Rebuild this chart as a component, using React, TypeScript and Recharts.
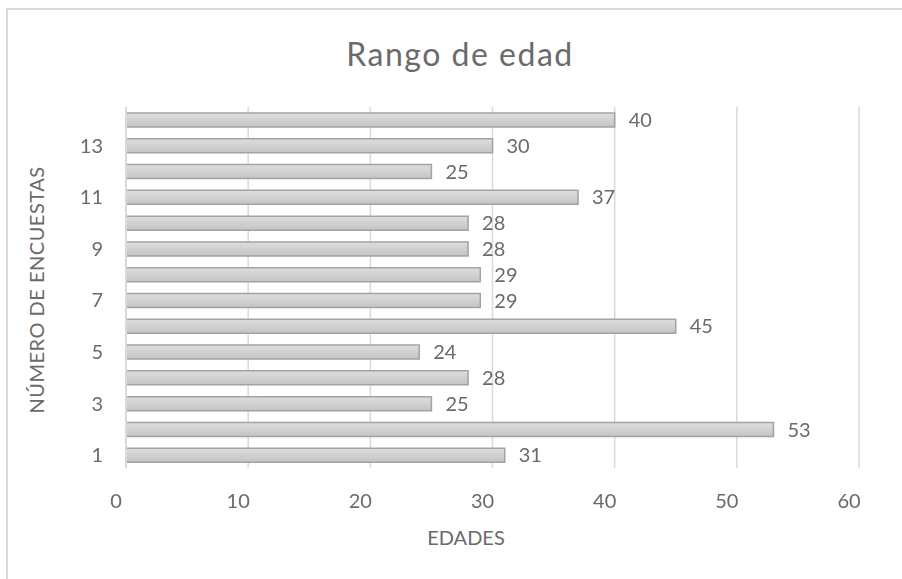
import {
  ComposedChart,
  Bar,
  XAxis,
  YAxis,
  CartesianGrid,
  LabelList,
} from 'recharts'

// encuesta number (bottom to top) and age
const encuestas = ['1', '2', '3', '4', '5', '6', '7', '8', '9', '10', '11', '12', '13', '14']
const edades = [31, 53, 25, 28, 24, 45, 29, 29, 28, 28, 37, 25, 30, 40]
const xTicks = [0, 10, 20, 30, 40, 50, 60]

const data = encuestas.map((n, i) => ({ n, edad: edades[i] }))

const GRAY = '#6a6a6a'
const FONT = 'Lato, "Open Sans", sans-serif'

const XTick = (props: any) => {
  const { x, y, payload } = props
  return (
    <text
      x={x - 10}
      y={y + 24}
      textAnchor="middle"
      dominantBaseline="central"
      fill={GRAY}
      fontSize={20}
      fontFamily={FONT}
    >
      {payload.value}
    </text>
  )
}

export default function App() {
  return (
    <div
      style={{
        position: 'relative',
        width: 886,
        height: 563,
        fontFamily: FONT,
        background: '#fff',
      }}
    >
      {/* chart frame, only top and left edges show in the picture */}
      <div style={{ position: 'fixed', left: 6, top: 8, width: 896, height: 2, background: '#d9d9d9' }} />
      <div style={{ position: 'fixed', left: 6, top: 8, width: 2, height: 571, background: '#d9d9d9' }} />
      <div
        style={{
          position: 'absolute',
          left: 2,
          width: 900,
          top: 26,
          textAlign: 'center',
          fontSize: 32,
          color: GRAY,
          letterSpacing: 1.5,
        }}
      >
        Rango de edad
      </div>
      <div
        style={{
          position: 'absolute',
          left: 28,
          top: 282,
          transform: 'translate(-50%, -50%) rotate(-90deg)',
          whiteSpace: 'nowrap',
          fontSize: 20,
          color: GRAY,
          letterSpacing: 0.5,
        }}
      >
        NÚMERO DE ENCUESTAS
      </div>
      <div
        style={{
          position: 'absolute',
          left: 458,
          top: 517,
          transform: 'translateX(-50%)',
          fontSize: 20,
          color: GRAY,
        }}
      >
        EDADES
      </div>
      <div style={{ position: 'absolute', left: 0, top: 0 }}>
        <ComposedChart
          width={886}
          height={565}
          layout="vertical"
          data={data}
          margin={{ top: 99, right: 35, bottom: 65, left: 58 }}
        >
          <defs>
            <linearGradient id="barFill" x1="0" y1="0" x2="0" y2="1">
              <stop offset="0%" stopColor="#dedede" />
              <stop offset="100%" stopColor="#c4c4c4" />
            </linearGradient>
          </defs>
          <CartesianGrid horizontal={false} stroke="#d9d9d9" strokeWidth={1.5} />
          <XAxis
            type="number"
            domain={[0, 60]}
            ticks={xTicks}
            axisLine={false}
            tickLine={false}
            height={40}
            tick={<XTick />}
          />
          <YAxis
            type="category"
            dataKey="n"
            reversed
            interval={1}
            width={60}
            axisLine={{ stroke: '#d9d9d9', strokeWidth: 2 }}
            tickLine={false}
            tickMargin={17}
            tick={{ fill: GRAY, fontSize: 20, fontFamily: FONT }}
          />
          <Bar
            dataKey="edad"
            barSize={14}
            fill="url(#barFill)"
            stroke="#a3a3a3"
            strokeWidth={1.5}
            isAnimationActive={false}
          >
            <LabelList
              dataKey="edad"
              position="right"
              offset={14}
              fill={GRAY}
              fontSize={20}
              fontFamily={FONT}
            />
          </Bar>
        </ComposedChart>
      </div>
    </div>
  )
}
